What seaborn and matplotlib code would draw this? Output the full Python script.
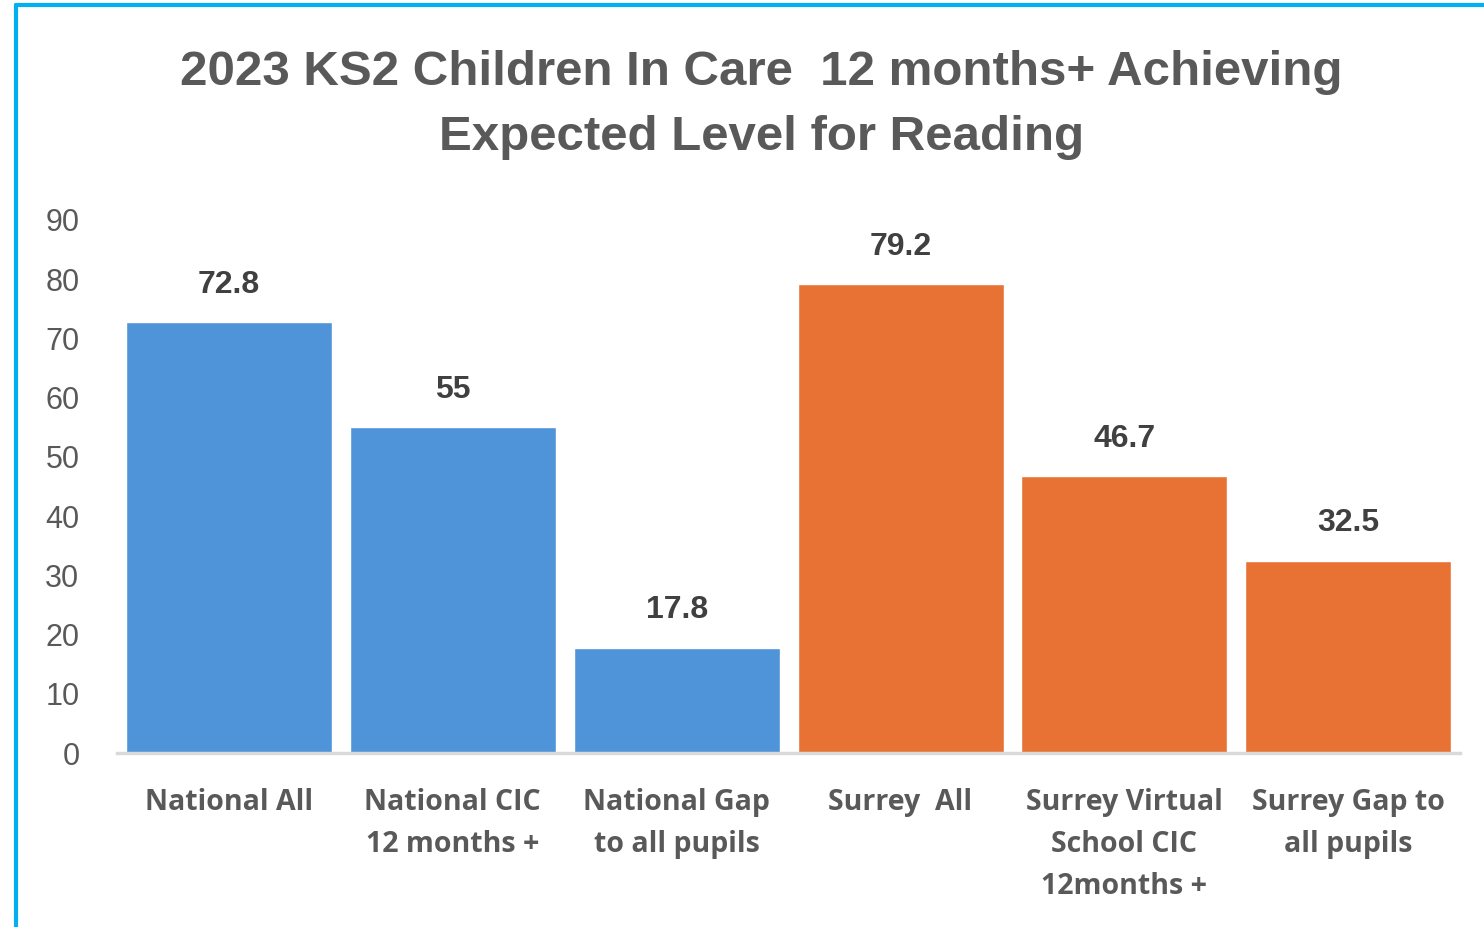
import pandas as pd
import seaborn as sns
import matplotlib.pyplot as plt
from matplotlib.lines import Line2D

# datos
categorias = ['National All', 'National CIC\n12 months +', 'National Gap\nto all pupils',
              'Surrey  All', 'Surrey Virtual\nSchool CIC\n12months +', 'Surrey Gap to\nall pupils']
valores = [72.8, 55, 17.8, 79.2, 46.7, 32.5]
etiquetas = ['72.8', '55', '17.8', '79.2', '46.7', '32.5']
grupo = ['National', 'National', 'National', 'Surrey', 'Surrey', 'Surrey']
colores = {'National': '#4F94D8', 'Surrey': '#E87234'}

df = pd.DataFrame({'categoria': categorias, 'valor': valores, 'grupo': grupo})

sns.set_style('white')
plt.rcParams['font.family'] = ['Liberation Sans', 'DejaVu Sans']

fig = plt.figure(figsize=(14.84, 9.27), dpi=100)
ax = fig.add_axes([0.0788, 0.1877, 0.9052, 0.575])

sns.barplot(data=df, x='categoria', y='valor', hue='grupo', palette=colores,
            dodge=False, width=0.92, legend=False, ax=ax, saturation=1)

for cont, grp in zip(ax.containers, ['National', 'Surrey']):
    labs = [e for e, g in zip(etiquetas, grupo) if g == grp]
    ax.bar_label(cont, labels=labs, padding=16, fontsize=23, fontweight='bold', color='#404040')

ax.set_ylim(0, 90)
ax.set_yticks(range(0, 91, 10))
ax.set_xlim(-0.5, 5.5)
ax.set_xlabel('')
ax.set_ylabel('')
ax.tick_params(axis='y', length=0, pad=27, labelsize=22, labelcolor='#595959')
ax.tick_params(axis='x', length=0, pad=25)
for lab in ax.get_xticklabels():
    lab.set_fontfamily(['Open Sans', 'DejaVu Sans'])
    lab.set_fontweight('bold')
    lab.set_fontsize(20.5)
    lab.set_color('#595959')
    lab.set_linespacing(1.6)

for s in ['top', 'right', 'left']:
    ax.spines[s].set_visible(False)
ax.spines['bottom'].set_color('#D9D9D9')
ax.spines['bottom'].set_linewidth(2.5)

fig.text(0.513, 0.887, '2023 KS2 Children In Care  12 months+ Achieving\nExpected Level for Reading',
         ha='center', va='center', fontsize=35.5, fontweight='bold', color='#595959',
         linespacing=1.58)

# marco azul
fig.add_artist(Line2D([16 / 1484, 16 / 1484], [0, 1 - 5 / 927], transform=fig.transFigure,
                      color='#00B0F0', linewidth=3))
fig.add_artist(Line2D([16 / 1484, 1], [1 - 5 / 927, 1 - 5 / 927], transform=fig.transFigure,
                      color='#00B0F0', linewidth=3))

plt.savefig('out.png', dpi=100)
